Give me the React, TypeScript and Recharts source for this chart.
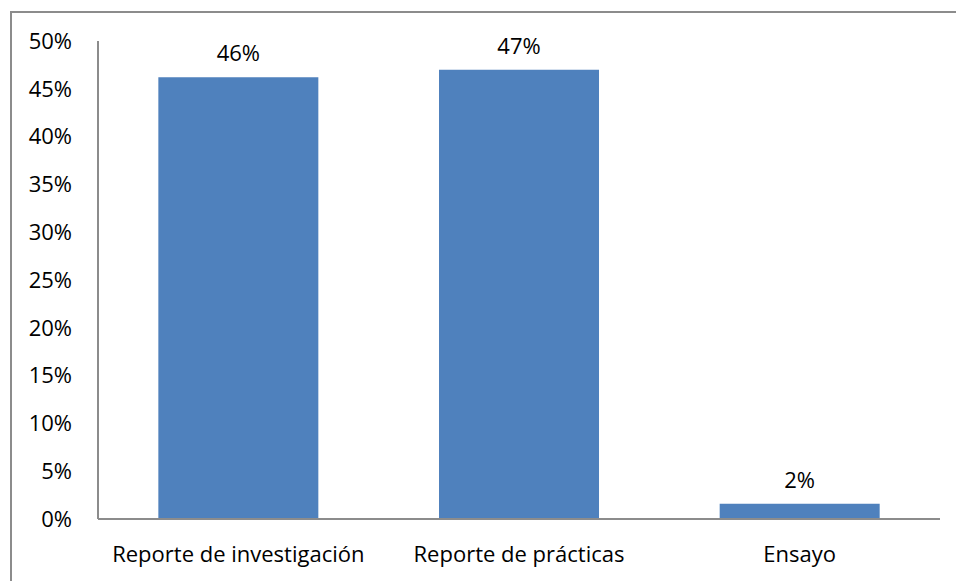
import { BarChart, Bar, XAxis, YAxis, LabelList } from 'recharts'

const categories = ['Reporte de investigación', 'Reporte de prácticas', 'Ensayo']
const shares = [46.2, 47.0, 1.6]
const yTicks = [0, 5, 10, 15, 20, 25, 30, 35, 40, 45, 50]

const data = categories.map((name, i) => ({ name, value: shares[i] }))

const font = '"Open Sans", sans-serif'

export default function App() {
  return (
    <div style={{ position: 'absolute', left: 0, top: 0, width: 956, height: 581, overflow: 'hidden', background: '#fff', fontFamily: font }}>
      <div style={{ position: 'absolute', left: 10, top: 11, width: 1000, height: 700, borderLeft: '2px solid #8c8c8c', borderTop: '2px solid #8c8c8c' }} />
      <BarChart
        width={956}
        height={581}
        data={data}
        margin={{ top: 41, right: 16, left: 0, bottom: 0 }}
        barCategoryGap="21.5%"
        style={{ position: 'absolute', left: 0, top: 0 }}
      >
        <XAxis
          dataKey="name"
          axisLine={{ stroke: '#8c8c8c', strokeWidth: 2 }}
          tickLine={false}
          tickSize={0}
          tickMargin={27}
          height={62}
          interval={0}
          tick={{ fill: '#000', fontSize: 22, fontFamily: font }}
        />
        <YAxis
          width={98}
          domain={[0, 50]}
          ticks={yTicks}
          interval={0}
          axisLine={{ stroke: '#8c8c8c', strokeWidth: 2 }}
          tickLine={false}
          tickSize={0}
          tickMargin={26}
          tickFormatter={v => `${v}%`}
          tick={{ fill: '#000', fontSize: 22, fontFamily: font }}
        />
        <Bar dataKey="value" fill="#4f81bd" isAnimationActive={false}>
          <LabelList
            dataKey="value"
            position="top"
            offset={16}
            formatter={(v: any) => `${Math.round(Number(v))}%`}
            style={{ fill: '#000', fontSize: 22, fontFamily: font }}
          />
        </Bar>
      </BarChart>
    </div>
  )
}
